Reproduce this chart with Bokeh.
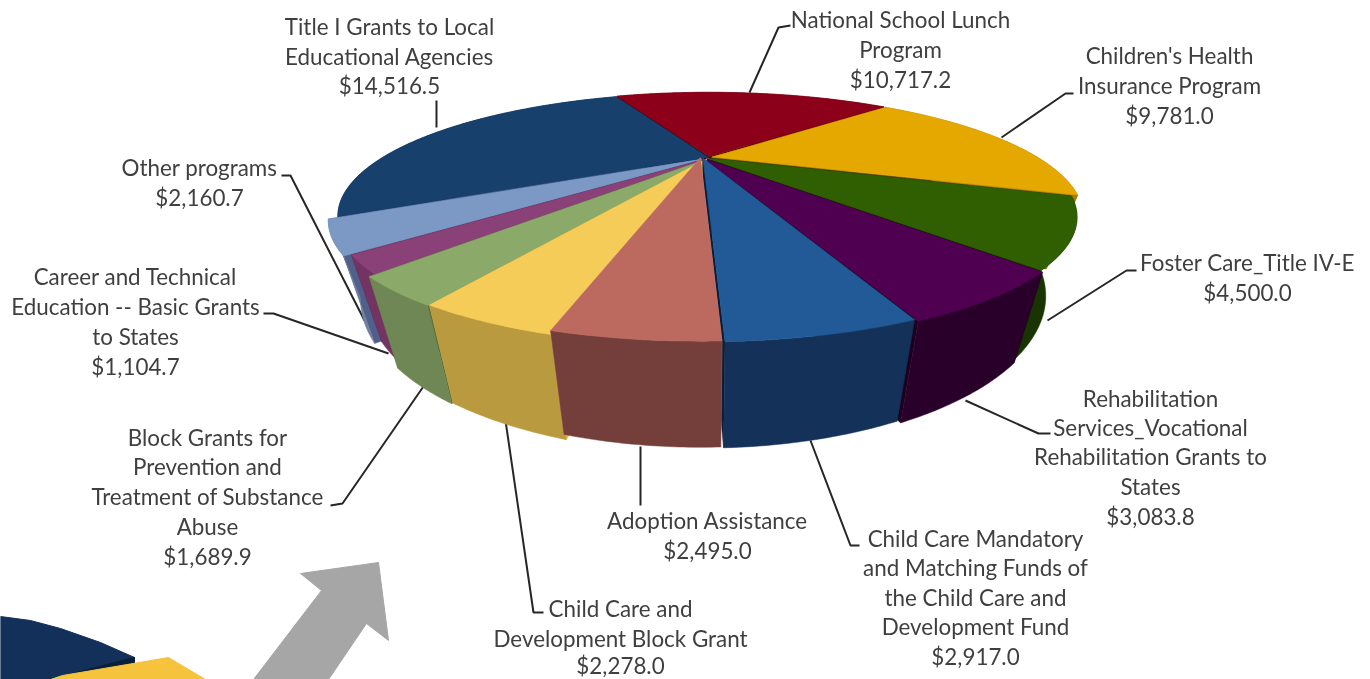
import numpy as np
from bokeh.plotting import figure
from bokeh.models import Range1d
from bokeh.core.properties import value
from bokeh.embed import file_html
from bokeh.resources import INLINE

programs = ["National School Lunch Program", "Children's Health Insurance Program", "Foster Care_Title IV-E",
            "Rehabilitation Services_Vocational Rehabilitation Grants to States",
            "Child Care Mandatory and Matching Funds of the Child Care and Development Fund",
            "Adoption Assistance", "Child Care and Development Block Grant",
            "Block Grants for Prevention and Treatment of Substance Abuse",
            "Career and Technical Education -- Basic Grants to States", "Other programs",
            "Title I Grants to Local Educational Agencies"]
amounts = [10717.2, 9781.0, 4500.0, 3083.8, 2917.0, 2495.0, 2278.0, 1689.9, 1104.7, 2160.7, 14516.5]
top_colors = ["#8C0019", "#E5A800", "#2F5F00", "#500050", "#215A96", "#BC6A60", "#F6CC58", "#8BAA69", "#8A4178", "#7C98C4", "#17406D"]
wall_colors = ["#5A0010", "#A87C00", "#183400", "#28002A", "#14315A", "#743F3B", "#BA9A3F", "#6F8755", "#743463", "#6F7FA0", "#0E2A4A"]
edge_colors = ["#3C000A", "#705000", "#102400", "#1C001E", "#0A1C38", "#E0A080", "#E8B84A", "#4F6A35", "#5A2450", "#50608A", "#061830"]
explode = [0.012, 0.02, 0.006, 0.012, 0.006, 0.004, 0.018, 0.022, 0.012, 0.024, 0.0]
nudge_x = [0, -3, -5, -6, -6, -8, 0, 2, 3, 2, 0]

labels = [
    (900, [19, 49, 79], ["National School Lunch", "Program", "$10,717.2"]),
    (1169, [55, 85, 115], ["Children's Health", "Insurance Program", "$9,781.0"]),
    (1247, [262, 292], ["Foster Care_Title IV-E", "$4,500.0"]),
    (1150, [398, 427, 456, 486, 516], ["Rehabilitation", "Services_Vocational", "Rehabilitation Grants to", "States", "$3,083.8"]),
    (975, [538, 567, 597, 626, 656], ["Child Care Mandatory", "and Matching Funds of", "the Child Care and", "Development Fund", "$2,917.0"]),
    (707, [520, 550], ["Adoption Assistance", "$2,495.0"]),
    (620, [608, 638, 665], ["Child Care and", "Development Block Grant", "$2,278.0"]),
    (207, [437, 466, 496, 526, 556], ["Block Grants for", "Prevention and", "Treatment of Substance", "Abuse", "$1,689.9"]),
    (135, [276, 306, 336, 366], ["Career and Technical", "Education -- Basic Grants", "to States", "$1,104.7"]),
    (199, [167, 197], ["Other programs", "$2,160.7"]),
    (389, [26, 56, 85], ["Title I Grants to Local", "Educational Agencies", "$14,516.5"]),
]
leaders = [
    ([749, 778, 790], [92, 27, 25]),
    ([1001, 1065, 1073], [137, 93, 93]),
    ([1047, 1126, 1136], [320, 270, 270]),
    ([965, 1038, 1050], [400, 433, 433]),
    ([810, 850, 859], [440, 545, 545]),
    ([640, 640], [446, 505]),
    ([505, 533, 543], [420, 612, 612]),
    ([425, 342, 330], [383, 503, 505]),
    ([263, 273, 388], [313, 313, 353]),
    ([281, 290, 364], [175, 175, 320]),
    ([436, 436], [127, 100]),
]

CX, CY, R, S, K = 708.0, 157.0, 326.0, 95.5, 0.476
START = 336.0


def top(dx, dy, nudge):
    w = 1 - K * dy
    return CX + nudge + R * dx / w, CY + S * dy / w


def bottom(X, Y):
    return CX + 0.915 * (X - CX), 363 + 1.22 * (Y - 272)


total = sum(amounts)
p = figure(width=1370, height=679, output_backend="svg", toolbar_location=None,
           x_range=Range1d(0, 1370), y_range=Range1d(679, 0), min_border=0,
           outline_line_color=None, background_fill_color="white", border_fill_color="white",
           styles={"position": "fixed", "left": "0", "top": "0"})
p.axis.visible = False
p.grid.visible = False

# decoration in the lower left corner
p.patch([0, 30, 60, 100, 134, 134, 60, 0], [616, 620, 628, 642, 657, 662, 679, 679], color="#12305A")
p.patch([134, 134, 60, 48], [657, 662, 679, 679], color="#0B2038")
p.patch([62, 168, 205, 50], [675, 657, 679, 679], color="#F5C33C")
p.patch([378, 388, 366, 328, 253, 321, 300], [562, 640, 623, 679, 679, 590, 573], color="#A6A6A6")

for xs, ys in leaders:
    p.line(xs, ys, line_color="#262626", line_width=2)

a0 = START
slices = []
for i, v in enumerate(amounts):
    sweep = v / total * 360
    slices.append((a0, a0 + sweep, i))
    a0 += sweep


def depth(s):
    m = np.radians((s[0] + s[1]) / 2)
    return -np.cos(m)


for a, b, i in sorted(slices, key=depth):
    m = np.radians((a + b) / 2)
    ox, oy = explode[i] * np.sin(m), -explode[i] * np.cos(m)
    t = np.radians(np.linspace(a, b, max(int(b - a) * 2, 6)))
    rx, ry = top(np.sin(t) + ox, -np.cos(t) + oy, nudge_x[i])
    ax, ay = top(ox, oy, nudge_x[i])
    bx, by = bottom(rx, ry)
    bax, bay = bottom(ax, ay)
    # radial side walls
    for j in (0, -1):
        p.patch([ax, rx[j], bx[j], bax], [ay, ry[j], by[j], bay], fill_color=edge_colors[i], line_color=edge_colors[i], line_width=0.5)
    # outer wall
    p.patch(list(rx) + list(bx[::-1]), list(ry) + list(by[::-1]), fill_color=wall_colors[i], line_color=wall_colors[i], line_width=0.5)
    # top face
    p.patch([ax] + list(rx), [ay] + list(ry), fill_color=top_colors[i], line_color=top_colors[i], line_width=0.5)

xs, ys, ts = [], [], []
for cx, lines_y, texts in labels:
    for y, t in zip(lines_y, texts):
        xs.append(cx); ys.append(y); ts.append(t)
p.text(xs, ys, text=ts, text_align="center", text_baseline="middle", text_color="#3F3F3F",
       text_font=value("Lato"), text_font_size="22.4px")

open("out.html", "w").write(file_html(p, INLINE))
